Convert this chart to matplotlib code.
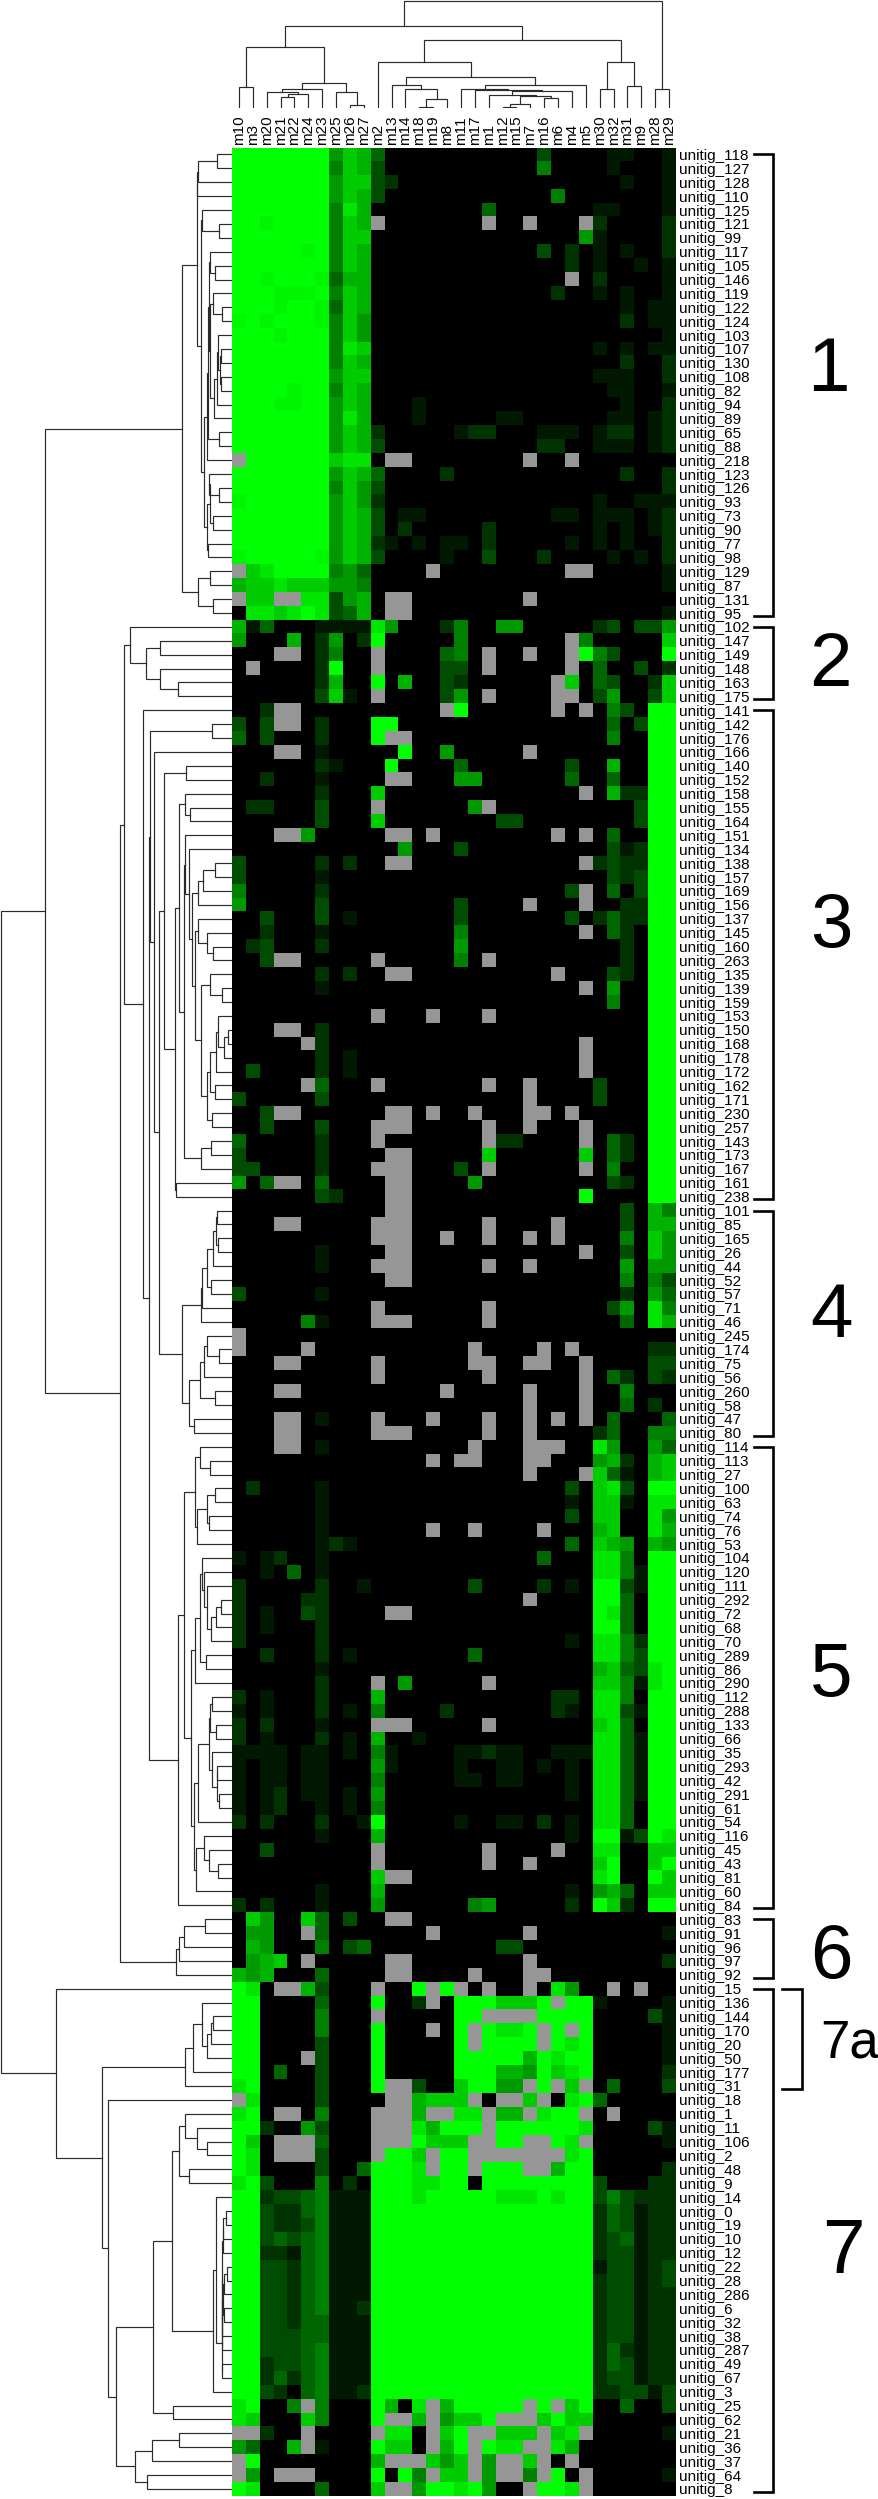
import numpy as np
import matplotlib
matplotlib.use('Agg')
from matplotlib import pyplot as plt
from matplotlib.colors import LinearSegmentedColormap

plt.rcParams['font.family'] = ['Liberation Sans', 'DejaVu Sans']

col_names = ['m10', 'm3', 'm20', 'm21', 'm22', 'm24', 'm23', 'm25', 'm26', 'm27', 'm2', 'm13', 'm14', 'm18', 'm19', 'm8',
             'm11', 'm17', 'm1', 'm12', 'm15', 'm7', 'm16', 'm6', 'm4', 'm5', 'm30', 'm32', 'm31', 'm9', 'm28', 'm29']

row_ids = [118, 127, 128, 110, 125, 121, 99, 117, 105, 146, 119, 122, 124, 103, 107, 130, 108, 82, 94, 89, 65, 88, 218,
           123, 126, 93, 73, 90, 77, 98, 129, 87, 131, 95,
           102, 147, 149, 148, 163, 175,
           141, 142, 176, 166, 140, 152, 158, 155, 164, 151, 134, 138, 157, 169, 156, 137, 145, 160, 263, 135, 139, 159,
           153, 150, 168, 178, 172, 162, 171, 230, 257, 143, 173, 167, 161, 238,
           101, 85, 165, 26, 44, 52, 57, 71, 46, 245, 174, 75, 56, 260, 58, 47, 80,
           114, 113, 27, 100, 63, 74, 76, 53, 104, 120, 111, 292, 72, 68, 70, 289, 86, 290, 112, 288, 133, 66, 35, 293,
           42, 291, 61, 54, 116, 45, 43, 81, 60, 84,
           83, 91, 96, 97, 92,
           15, 136, 144, 170, 20, 50, 177, 31, 18, 1, 11, 106, 2, 48, 9, 14, 0, 19, 10, 12, 22, 28, 286, 6, 32, 38, 287,
           49, 67, 3, 25, 62, 21, 36, 37, 64, 8]

# 0-9,b,a = green level (b just under full), x = missing (grey)
heat_rows = [
    'aaaaaaa6 87400000 00000030 00011001',
    'aaaaaaa5 87300000 00000050 00010001',
    'aaaaaaa6 88320000 00000000 00001001',
    'aaaaaaa6 87300000 00000005 00000001',
    'aaaaaaa5 97000000 00400000 00110001',
    'aabaaaa5 87x00000 00x00x00 0x200002',
    'aaaaaaa5 88000000 00000000 06100002',
    'aaaaaba5 87000000 00000030 20101002',
    'aaaaaaa5 87000000 00000000 20100101',
    'aabaaab4 77000000 00000000 x0200001',
    'aaabbba5 87000000 00000002 00101001',
    'aaabaab4 87000000 00000000 00001011',
    'babaaab5 86000000 00000000 00002011',
    'aaabaaa5 86000000 00000000 00000001',
    'aaaaaaa5 98000000 00000000 00101011',
    'aaaaaaa5 87000000 00000000 00002002',
    'aaaaaaa6 88000000 00000000 00111002',
    'aaaabaa5 87000000 00000000 00011001',
    'aaabbaa6 87000100 00000000 00001002',
    'aaaaaaa6 97000100 00011000 00011012',
    'aaaaaaa6 87200000 12200011 10122012',
    'aaaaaaa6 87300000 00000022 00111012',
    'xaaaaaa8 990xx000 00000x00 x0000000',
    'aaaaaaa6 87400002 00000000 00002002',
    'aaaaaaa5 86300000 00000000 00000002',
    'baaaaaa6 86200000 00000000 00100111',
    'aaaaaaa6 87301100 00000001 10111012',
    'aaaaaaa6 87302000 00200000 00101012',
    'aaaaaaa6 87210101 10200000 10101002',
    'baaaaab6 87300001 00300020 00010102',
    'x89aaaa5 640000x0 00000000 xx000001',
    '78898886 65000000 00000000 00000001',
    'x88xx993 670xx000 00000x00 00000000',
    '09989a93 470xx000 00000000 00000001',
    '71400011 11960002 50066000 00230336',
    '60007026 02a00000 50000000 x5000008',
    '000xx025 00x00004 50x00x00 xa53000a',
    '0x00002a 00x00003 30x00000 x0400302',
    '00000027 00a07003 2000000x 80430028',
    '00000038 10x00003 60x0000x x0360038',
    '002xx000 0000000x a000000x 0x0530aa',
    '303xx020 00aa0000 00000000 000403aa',
    '40300020 00axx000 00000000 000500aa',
    '000xx010 0000a006 00000x00 000000aa',
    '00000021 000a0000 40000000 300700aa',
    '00200010 000xx000 66000000 400400aa',
    '00000020 00800000 00000000 0x0722aa',
    '02200030 00x00000 06x00000 000003aa',
    '00000030 00800000 00033000 000003aa',
    '000xx600 000xx0x0 0000000x 0x0400aa',
    '00000000 00006000 30000000 000312aa',
    '30000020 200xx000 00000000 0x2322aa',
    '30000010 00000000 00000000 000323aa',
    '50000020 00000000 00000000 3x0403aa',
    '60000030 00000000 30000x00 0x0022aa',
    '00300030 10000000 30000000 302422aa',
    '00200010 00000000 50000000 0x0420aa',
    '02300020 00000000 60000000 000020aa',
    '003xx000 00x00000 50x00000 000020aa',
    '00000020 200xx000 0000000x 000320aa',
    '00000010 00000000 00000000 0x0600aa',
    '00000000 00000000 00000000 000500aa',
    '00000000 00x000x0 00x00000 000000aa',
    '000xx020 00000000 00000000 000000aa',
    '00000x20 00000000 00000000 0x0000aa',
    '00000020 10000000 00000000 0x0000aa',
    '03000020 10000000 00000000 0x0000aa',
    '00000x40 00x00000 00x00x00 003000aa',
    '30000030 00000000 00000x00 003000aa',
    '003xx000 000xx0x0 0x000xx0 x00000aa',
    '00300030 00xxx000 00x00x00 0x0000aa',
    '40000020 00x00000 00x22000 0x0420aa',
    '30000020 000xx000 00800000 080420aa',
    '33000020 00xxx000 30x00000 0x0500aa',
    '604xx040 000xx000 06000000 000320aa',
    '00000032 000xx000 00000000 0a0000aa',
    '00000000 000xx000 00000000 00003075',
    '000xx000 00xxx000 00x0000x 00003077',
    '00000000 00xxx00x 00x00x0x 00005086',
    '00000010 000xx000 00000000 0x003086',
    '00000010 00xxx000 00x00x00 00006066',
    '00000000 000xx000 00000000 00005053',
    '30000010 00000000 00000000 00002064',
    '00000000 00x00000 00x00000 00036095',
    '00000510 00xxx000 00x00000 00004097',
    'x0000000 00000000 00000000 00000000',
    'x0000x00 00000000 0x0000x0 x0000022',
    '000xx000 00x00000 0xx00xx0 0x000033',
    '00000000 00x00000 00x00000 0x042032',
    '000xx000 0000000x 00000x00 0x005000',
    '00000000 00000000 00000x00 0x004020',
    '000xx010 00x000x0 00x00x0x 0x040004',
    '000xx000 00xxx000 00x00x00 00240055',
    '000xx010 00000000 0x000xxx 00960064',
    '00000000 000000x0 xx000xx0 00672078',
    '00000000 00000000 00000x00 0x841078',
    '02000010 00000000 00000000 308930aa',
    '00000010 00000000 00000000 10881099',
    '00000010 00000000 00000000 30880096',
    '00000010 000000x0 0x0000x0 00780097',
    '00000012 10000000 00000000 40876076',
    '10120010 00000000 00000040 009950aa',
    '00104010 00000000 00000000 009951aa',
    '20000020 01000000 03000020 10aa31aa',
    '20000220 00000000 00000x00 00aa40aa',
    '20100320 000xx000 00000000 00a940aa',
    '20100020 00000000 00000000 00aa40aa',
    '20000020 00000000 00000000 109952aa',
    '00200020 10000000 04000000 009953aa',
    '00000010 00000000 00000000 0078439a',
    '00000020 00x06000 00x00000 0088519a',
    '20100020 00700000 00000002 209950aa',
    '10100020 10500002 00000002 109931aa',
    '20200010 00xxx000 00x00000 008940aa',
    '20100020 10700100 00000000 009941aa',
    '11110110 10510000 11211001 119941aa',
    '10110110 00610000 10011010 109941aa',
    '10110110 00500000 11011000 109941aa',
    '10120110 10600000 00000000 109941aa',
    '10120010 10500000 00000000 009940aa',
    '20200020 01a00000 10011020 109940aa',
    '00000010 00700000 00000000 10aa13a9',
    '00300000 00x00000 00x0000x 00990088',
    '00000000 00x00000 00x00x00 008a008a',
    '00000000 008xx000 00000000 009a00a8',
    '00000010 00700000 00000000 10674088',
    '20200010 00600000 05600000 20a820aa',
    '08600840 300xx000 00000000 00000000',
    '06600x40 000000x0 00000x00 00000001',
    '07600050 34000000 00033000 00000000',
    '06780x00 000xx000 00000x00 00000002',
    '76700040 000xx000 0x000xx0 00000000',
    'a90xx730 00x00axa x0x00x09 600x0x00',
    'aa000040 00a002x0 aaa888ax aa100001',
    'aa000050 00x00000 aaxxxxaa aa000031',
    'aa000050 00a000x0 axa99axa xa000001',
    'aa000030 00a00000 axaaaaxa 9a000001',
    'aa000x30 00a00000 aaaaa7a9 aa000001',
    'aa040030 00a00000 aaa776a8 9a000002',
    '9a000030 00axx300 8aa66xax 8x040003',
    'x9000030 000xx788 8x0xx8x0 9a400000',
    '9a0xx050 00xxx7xx 99x77x9a ax0x0000',
    'aa200630 00xxx97a aaxaaaaa a9000031',
    'a80xxx40 00xxxa88 8xxaaxxa 9x000001',
    'a90xxx30 00xaa8xa axxxxxxx 9a000000',
    'a9000030 04aaa9xa axaaaxx7 aa000002',
    '9a300050 20aaa99a a0aaaaaa aa300022',
    'aa233451 11aaa9aa aaa999a9 aa353222',
    'aa322451 11aaaaaa aaaaaaaa aa243122',
    'aa322351 11aaaaaa aaaaaaaa aa243122',
    'aa343451 11aaaaaa aaaaaaaa aa234122',
    'aa221451 11aaaaaa aaaaaaaa aa233122',
    'aa332451 11aaaaaa aaaaaaaa aa133123',
    'aa332451 11aaaaaa aaaaaaaa aa233123',
    'aa332451 11aaaaaa aaaaaaaa aa233122',
    'aa332451 12aaaaaa aaaaaaaa aa233122',
    'aa332441 11aaaaaa aaaaaaaa aa233122',
    'aa333441 11aaaaaa aaaaaaaa aa233122',
    'aa333451 11aaaaaa aaaaaaaa aa242122',
    'aa233451 11aaaaaa aaaaaaaa aa243122',
    'aa242451 11aaaaaa aaaaaaaa aa233122',
    'aa320451 12aaaaaa aaaaaaaa aa223313',
    '9a005x50 00a709x7 aaaaaxax 8a004003',
    '98000850 00axx7x6 88axxx8a 88000000',
    'xx200x00 00x990x8 axx888x8 9x000001',
    '64007x10 00a880x7 axa99xx9 70000000',
    'xa000000 007xxx86 8x6xx8x0 x0000000',
    'x60xxx00 00a0a5x8 8x6xx5xa 0x000001',
    'a9000040 008xx6aa 9a600xaa 9x000000',
]
level = {'x': np.nan, 'a': 10, 'b': 9.6}

# row tree: [position, upper, lower], 0 is a leaf
g1_a = [197, [198, [217, 0, 0], 0], 0]
g1_b = [202, 0, [219, 0, 0]]
g1_c = [207, [208, [209, [210, 0, [215, 0, 0]],
                    [209.5, [213, 0, [222, 0, 0]],
                     [214, [217, [218, 0, [220, [221, 0, 0], [221, 0, 0]]], 0], 0]]],
              [219, 0, 0]], 0]
g1_d = [206.5, [210, [208.5, 0, [219, 0, 0]], [213, 0, 0]], [208, 0, 0]]
group1 = [182, [196.5, g1_a, [200.5, g1_b, [203.5, g1_c, g1_d]]],
          [198, [210, 0, 0], [213, 0, 0]]]
group2 = [130, 0, [146, [160, 0, 0], [160, 0, [178, 0, 0]]]]
g3_mid = [192, [198, [203, [215, 0, 0], 0], 0],
          [194.5, [198, 0, [207, 0, [213, 0, 0]]],
           [201, [210, 0, [222, 0, 0]],
            [207, [210, [216, [218, 0, [224, [228, 0, 0], 0]], 0], [215, 0, 0]], [212, 0, 0]]]]]
g3_low = [175, [179, [184.5, 0, [190, 0, 0]],
                [184.4, [184.5, 0, [189, 0, g3_mid]], [201, [211, 0, 0], 0]]],
          [175.5, 0, 0]]
g3_tail = [164, [186, 0, 0], g3_low]
group4 = [182, [201, [202, [206.5, [212.5, [216, [216.5, 0, 0], [218, 0, 0]], 0], [211, 0, 0]], 0], 0],
          [189, [199.5, [204, [206.5, 0, [219, 0, 0]], 0], [215, 0, 0]], [194.3, 0, 0]]]
g5_a = [194.5, [199.5, 0, [210, 0, 0]], [197.3, [206.5, [215, 0, 0], [209, 0, 0]], 0]]
g5_b = [194.5, [199.5, [201.5, 0, [204, 0, [207, 0, [211, [216, [221, 0, 0], 0], 0]]]], [205.5, 0, 0]], 0]
g5_c = [198.3, [209, [209.5, [212, 0, 0], [215.7, 0, 0]],
                [212, 0, [216.5, [216.7, 0, 0], [219.3, 0, 0]]]], 0]
g5_d = [195.7, [204, 0, [209, 0, [218, 0, 0]]], 0]
group5 = [178.3, [184.3, g5_a, [191.3, g5_b, [194.3, g5_c, g5_d]]], 0]
group6 = [176, [178.5, [184, [205, 0, 0], 0], 0], 0]
g7_dense = [221.7, [221.8, [221.9, [222.7, [223, [226, 0, 0], 0], 0],
                            [222.2, [222.5, [224, [226.7, 0, 0], 0], [224, 0, 0]], 0]], 0],
            [221.7, 0, 0]]
g7_mid = [153.3, [171.7, [178.7, [185.3, 0, [197.3, 0, [206.7, 0, 0]]], [189, 0, 0]],
                  [213.3, [215.7, 0, g7_dense], 0]],
          [173, 0, 0]]
group7 = [56, 0, [102, [185.3, [192.7, [201.7, 0, [207.3, [211.3, [213, 0, 0], 0], 0]], 0], 0],
                  [107.7, 0, [116.3, g7_mid,
                              [134.7, [152, [178.7, 0, 0], 0], [147.3, 0, 0]]]]]]
row_tree = [1, [44.5, group1,
                [120, [124, group2,
                       [143, 0, [148.5, [150, [212, 0, 0], [154, 0, [159, g3_tail, group4]]], group5]]],
                 group6]],
            group7]

# column tree, same form
col_right = [85, [88.7, 0, [90, 0, [90.7, [94.7, 0, [96, [103.7, [107.3, 0, 0], 0], [97.7, 0, 0]]], 0]]], 0]
col_left = [85, 0, [88.7, 0, [98.7, [107.3, 0, 0], 0]]]
col_tree = [1, [25.7, [46.7, [87, 0, 0],
                       [83, [89, [92, 0, [94.3, [97.3, 0, 0], 0]], 0], [92, 0, [104.7, 0, 0]]]],
                [39.7, [61.7, 0, [76.7, col_left, col_right]],
                 [61.7, [88.7, 0, 0], [86, 0, 0]]]],
            [88.7, 0, 0]]

group_first = [0, 34, 40, 76, 93, 127, 132]
group_last = [33, 39, 75, 92, 126, 131, 168]
group_names = ['1', '2', '3', '4', '5', '6', '7']
group_x = [828, 830, 831, 831, 831, 831, 843]
group_base = [391, 686, 947, 1337, 1696, 1978, 2273]
sub_first, sub_last = 132, 139

W, H = 879, 2499
hx0, hx1, hy0, hy1 = 232, 676, 147.5, 2495.9


def add_ax(x, y, w, h):
    return fig.add_axes([x / W, 1 - (y + h) / H, w / W, h / H])


def draw_tree(ax, node, leaf_h, state, horizontal):
    if node == 0:
        state[0] += 1
        return state[0] - 1, leaf_h
    h = node[0]
    p1, h1 = draw_tree(ax, node[1], leaf_h, state, horizontal)
    p2, h2 = draw_tree(ax, node[2], leaf_h, state, horizontal)
    if horizontal:
        ax.plot([h1, h, h, h2], [p1, p1, p2, p2], color='#2a2a2a', lw=0.85, solid_joinstyle='miter')
    else:
        ax.plot([p1, p1, p2, p2], [h1, h, h, h2], color='#2a2a2a', lw=0.85, solid_joinstyle='miter')
    return (p1 + p2) / 2, h


heat = np.array([[level[c] if c in level else int(c) for c in r.replace(' ', '')]
                 for r in heat_rows], dtype=float)

fig = plt.figure(figsize=(W / 100, H / 100), dpi=100)

cmap = LinearSegmentedColormap.from_list('bg', ['#000000', '#00ff00'])
cmap.set_bad('#969696')

ax = add_ax(hx0, hy0, hx1 - hx0, hy1 - hy0)
ax.imshow(np.ma.masked_invalid(heat), cmap=cmap, vmin=0, vmax=10, aspect='auto', interpolation='nearest')
ax.set_xticks(range(len(col_names)))
ax.set_xticklabels(col_names, rotation=90, fontsize=11)
ax.xaxis.tick_top()
ax.set_yticks(range(len(row_ids)))
ax.set_yticklabels(['unitig_%d' % i for i in row_ids], fontsize=11)
ax.yaxis.tick_right()
ax.tick_params(axis='x', length=0, pad=1.5)
ax.tick_params(axis='y', length=0, pad=2)
for s in ax.spines.values():
    s.set_visible(False)

# brackets and group numbers, x in axes fraction
tr = ax.get_yaxis_transform()
fx = lambda px: (px - hx0) / (hx1 - hx0)
fy = lambda px: (px - hy0) / (hy1 - hy0) * len(row_ids) - 0.5
for a, b in zip(group_first, group_last):
    ax.plot([fx(754), fx(773), fx(773), fx(754)], [a, a, b + 0.2, b + 0.2], color='black', lw=1.9,
            transform=tr, clip_on=False, solid_joinstyle='miter')
ax.plot([fx(782), fx(802), fx(802), fx(782)], [sub_first, sub_first, sub_last + 0.25, sub_last + 0.25],
        color='black', lw=1.9, transform=tr, clip_on=False, solid_joinstyle='miter')
for n, x, y in zip(group_names, group_x, group_base):
    ax.text(fx(x), fy(y), n, fontsize=55, ha='center', va='baseline', transform=tr)
ax.text(fx(850), fy(2057), '7a', fontsize=38, ha='center', va='baseline', transform=tr)
ax.set_xlim(-0.5, 31.5)
ax.set_ylim(168.5, -0.5)

ax_r = add_ax(0, hy0, hx0, hy1 - hy0)
draw_tree(ax_r, row_tree, 232, [0], True)
ax_r.set_xlim(0, 232)
ax_r.set_ylim(168.5, -0.5)
ax_r.axis('off')

ax_c = add_ax(hx0, 0, hx1 - hx0, 108)
draw_tree(ax_c, col_tree, 108, [0], False)
ax_c.set_xlim(-0.5, 31.5)
ax_c.set_ylim(108, 0)
ax_c.axis('off')

fig.savefig('out.png', dpi=100)
